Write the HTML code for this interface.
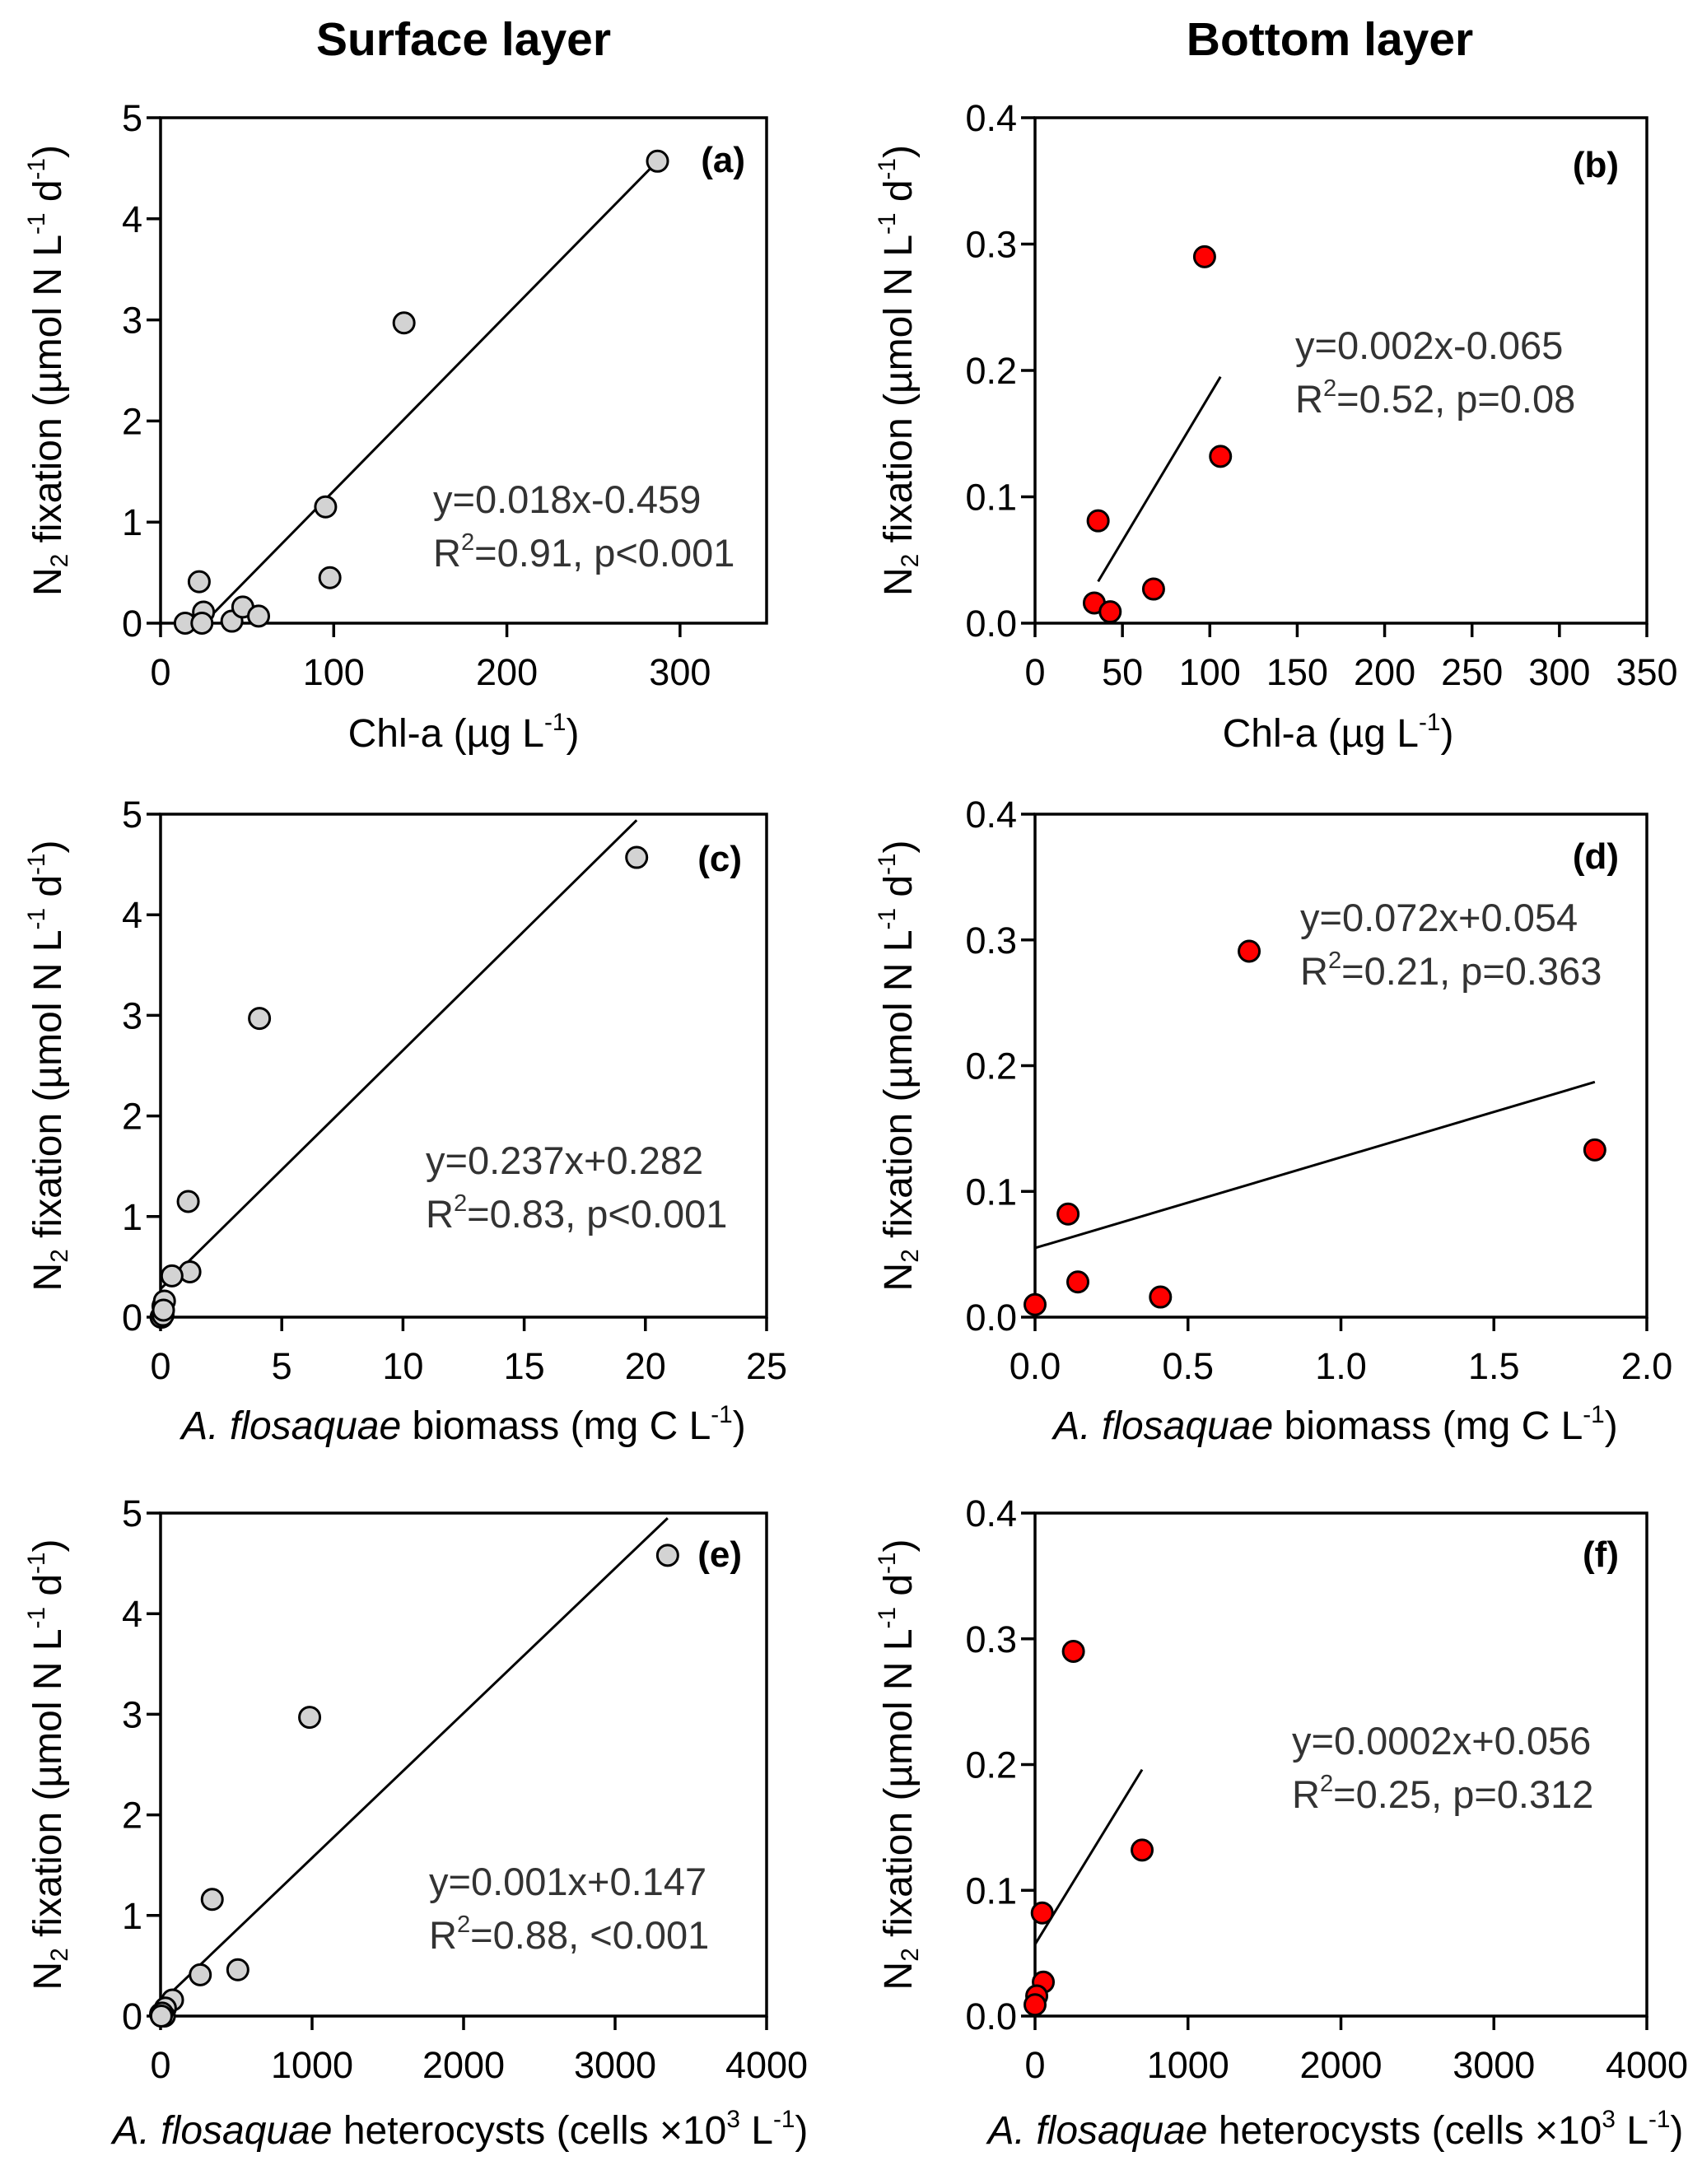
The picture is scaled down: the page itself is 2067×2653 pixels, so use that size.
<!DOCTYPE html>
<html><head><meta charset="utf-8"><style>
html,body{margin:0;padding:0;background:#fff}
svg{display:block}
text{font-family:"Liberation Sans",Arial,sans-serif}
</style></head><body>
<svg id="fig" width="2067" height="2653" viewBox="0 0 2067 2653" xmlns="http://www.w3.org/2000/svg">
<text x="563" y="67" font-size="57" font-weight="bold" text-anchor="middle">Surface layer</text>
<text x="1615" y="67" font-size="57" font-weight="bold" text-anchor="middle">Bottom layer</text>
</svg>
<script>
// Panel (a)
const aX = [287, 140.6, 95.3, 97.8, 22.3, 24.8, 14.2, 23.9, 41.2, 47.5, 56.6];
const aY = [4.57, 2.97, 1.15, 0.45, 0.41, 0.11, 0.0, 0.0, 0.02, 0.16, 0.07];
const aFitX = [26.7, 287];
const aFitY = [0.03, 4.57];
// Panel (b)
const bX = [97, 106.1, 36.1, 67.8, 33.9, 43.0];
const bY = [0.290, 0.132, 0.081, 0.027, 0.016, 0.009];
const bFitX = [36.1, 106.1];
const bFitY = [0.033, 0.195];
// Panel (c)
const cX = [19.64, 4.08, 1.14, 1.21, 0.47, 0.10, 0.05, 0.02, 0.10, 0.16, 0.12];
const cY = [4.57, 2.97, 1.15, 0.45, 0.41, 0.11, 0.0, 0.0, 0.02, 0.16, 0.07];
const cFitX = [0, 19.64];
const cFitY = [0.28, 4.94];
// Panel (d)
const dX = [0.70, 1.83, 0.108, 0.14, 0.41, 0.0];
const dY = [0.291, 0.133, 0.082, 0.028, 0.016, 0.010];
const dFitX = [0, 1.83];
const dFitY = [0.055, 0.187];
// Panel (e)
const eX = [3347, 984, 341, 510, 262, 79, 32, 0, 25, 10, 5];
const eY = [4.58, 2.97, 1.16, 0.46, 0.41, 0.16, 0.08, 0.02, 0.0, 0.03, 0.0];
const eFitX = [0, 3347];
const eFitY = [0.133, 4.95];
// Panel (f)
const fX = [251, 700, 47, 54, 11, 0];
const fY = [0.290, 0.132, 0.082, 0.027, 0.016, 0.009];
const fFitX = [0, 700];
const fFitY = [0.057, 0.196];
// Tick labels
const surfYTicks = ["0","1","2","3","4","5"];
const botYTicks = ["0.0","0.1","0.2","0.3","0.4"];
const chlSurfTicks = ["0","100","200","300"];
const chlBotTicks = ["0","50","100","150","200","250","300","350"];
const bioSurfTicks = ["0","5","10","15","20","25"];
const bioBotTicks = ["0.0","0.5","1.0","1.5","2.0"];
const hetTicks = ["0","1000","2000","3000","4000"];

const NS = "http://www.w3.org/2000/svg";
const svg = document.getElementById('fig');
function mk(tag, attrs, parent) {
  const e = document.createElementNS(NS, tag);
  for (const k in attrs) e.setAttribute(k, attrs[k]);
  (parent || svg).appendChild(e);
  return e;
}
function richText(parent, parts, attrs) {
  const t = mk('text', attrs, parent);
  const fs = parseFloat(attrs['font-size']);
  parts.forEach(p => {
    const s = document.createElementNS(NS, 'tspan');
    if (p.style === 'i') s.setAttribute('font-style', 'italic');
    if (p.style === 'sup') { s.setAttribute('font-size', (fs * 0.62) + 'px'); s.setAttribute('baseline-shift', (fs * 0.42) + 'px'); }
    if (p.style === 'sub') { s.setAttribute('font-size', (fs * 0.62) + 'px'); s.setAttribute('baseline-shift', (-fs * 0.16) + 'px'); }
    s.textContent = p.t;
    t.appendChild(s);
  });
  return t;
}

function panel(cfg) {
  const g = mk('g', {});
  
  
  const L = cfg.left, R = cfg.right, T = cfg.top, B = cfg.bottom;
  const sx = v => L + (v - cfg.xmin) / (cfg.xmax - cfg.xmin) * (R - L);
  const sy = v => B - (v - cfg.ymin) / (cfg.ymax - cfg.ymin) * (B - T);
  const frame = mk('rect', {x: L, y: T, width: R - L, height: B - T, fill: 'none', stroke: '#000', 'stroke-width': 3.5}, g);
  
  
  cfg.yTicks.forEach(lbl => {
    const v = parseFloat(lbl), y = sy(v);
    const tk = mk('line', {x1: L - 17, x2: L, y1: y, y2: y, stroke: '#000', 'stroke-width': 3.5}, g);
    
    
    const tx = mk('text', {x: L - 22, y: y + 16, 'font-size': 45, 'text-anchor': 'end'}, g);
    
    
    tx.textContent = lbl;
  });
  cfg.xTicks.forEach(lbl => {
    const v = parseFloat(lbl), x = sx(v);
    const tk = mk('line', {x1: x, x2: x, y1: B, y2: B + 17, stroke: '#000', 'stroke-width': 3.5}, g);
    
    
    const tx = mk('text', {x: x, y: B + 75, 'font-size': 45, 'text-anchor': 'middle'}, g);
    
    
    tx.textContent = lbl;
  });
  const fl = mk('line', {x1: sx(cfg.fitX[0]), y1: sy(cfg.fitY[0]), x2: sx(cfg.fitX[1]), y2: sy(cfg.fitY[1]), stroke: '#000', 'stroke-width': 3}, g);
  
  
  cfg.xs.forEach((xv, i) => {
    const c = mk('circle', {cx: sx(xv), cy: sy(cfg.ys[i]), r: 12.5, fill: cfg.fill, stroke: '#000', 'stroke-width': 3}, g);
    
    
  });
  const pl = mk('text', {x: cfg.lblX, y: cfg.lblY, 'font-size': 44, 'font-weight': 'bold', 'text-anchor': 'end'}, g);
  
  
  pl.textContent = '(' + cfg.id + ')';
  const e1 = mk('text', {x: cfg.eqX, y: cfg.eqY, 'font-size': 47, fill: '#333'}, g);
  
  
  e1.textContent = cfg.eq1;
  const e2 = richText(g, [{t: 'R'}, {t: '2', style: 'sup'}, {t: cfg.eq2}], {x: cfg.eqX, y: cfg.eqY + 65, 'font-size': 47, fill: '#333'});
  
  
  const cy = (T + B) / 2, tx0 = cfg.yTitleX;
  const yt = richText(g, [{t: 'N'}, {t: '2', style: 'sub'}, {t: ' fixation (µmol N L'}, {t: '-1', style: 'sup'}, {t: ' d'}, {t: '-1', style: 'sup'}, {t: ')'}],
    {x: tx0, y: cy, 'font-size': 48, 'text-anchor': 'middle', transform: 'rotate(-90 ' + tx0 + ' ' + cy + ')'});
  
  
  const xt = richText(g, cfg.xTitle, {x: cfg.xTitleX, y: cfg.xTitleY, 'font-size': 48, 'text-anchor': 'middle'});
  
  
}

const chlTitle = [{t: 'Chl-a (µg L'}, {t: '-1', style: 'sup'}, {t: ')'}];
const bioTitle = [{t: 'A. flosaquae', style: 'i'}, {t: ' biomass (mg C L'}, {t: '-1', style: 'sup'}, {t: ')'}];
const hetTitle = [{t: 'A. flosaquae', style: 'i'}, {t: ' heterocysts (cells ×10'}, {t: '3', style: 'sup'}, {t: ' L'}, {t: '-1', style: 'sup'}, {t: ')'}];

const LL = 195, LR = 931, RL = 1257, RR = 2000;
const rows = [[143, 757], [989, 1600], [1838, 2449]];

panel({id: 'a', left: LL, right: LR, top: rows[0][0], bottom: rows[0][1], xmin: 0, xmax: 350, ymin: 0, ymax: 5,
  xs: aX, ys: aY, fitX: aFitX, fitY: aFitY, fill: '#d3d3d3', yTicks: surfYTicks, xTicks: chlSurfTicks,
  lblX: 905, lblY: 209, eqX: 526, eqY: 623, eq1: 'y=0.018x-0.459', eq2: '=0.91, p<0.001',
  yTitleX: 74, xTitle: chlTitle, xTitleX: 563, xTitleY: 907});
panel({id: 'b', left: RL, right: RR, top: rows[0][0], bottom: rows[0][1], xmin: 0, xmax: 350, ymin: 0, ymax: 0.4,
  xs: bX, ys: bY, fitX: bFitX, fitY: bFitY, fill: '#ff0000', yTicks: botYTicks, xTicks: chlBotTicks,
  lblX: 1966, lblY: 215, eqX: 1573, eqY: 436, eq1: 'y=0.002x-0.065', eq2: '=0.52, p=0.08',
  yTitleX: 1107, xTitle: chlTitle, xTitleX: 1625, xTitleY: 907});
panel({id: 'c', left: LL, right: LR, top: rows[1][0], bottom: rows[1][1], xmin: 0, xmax: 25, ymin: 0, ymax: 5,
  xs: cX, ys: cY, fitX: cFitX, fitY: cFitY, fill: '#d3d3d3', yTicks: surfYTicks, xTicks: bioSurfTicks,
  lblX: 901, lblY: 1058, eqX: 517, eqY: 1426, eq1: 'y=0.237x+0.282', eq2: '=0.83, p<0.001',
  yTitleX: 74, xTitle: bioTitle, xTitleX: 563, xTitleY: 1748});
panel({id: 'd', left: RL, right: RR, top: rows[1][0], bottom: rows[1][1], xmin: 0, xmax: 2, ymin: 0, ymax: 0.4,
  xs: dX, ys: dY, fitX: dFitX, fitY: dFitY, fill: '#ff0000', yTicks: botYTicks, xTicks: bioBotTicks,
  lblX: 1966, lblY: 1055, eqX: 1579, eqY: 1131, eq1: 'y=0.072x+0.054', eq2: '=0.21, p=0.363',
  yTitleX: 1107, xTitle: bioTitle, xTitleX: 1622, xTitleY: 1748});
panel({id: 'e', left: LL, right: LR, top: rows[2][0], bottom: rows[2][1], xmin: 0, xmax: 4000, ymin: 0, ymax: 5,
  xs: eX, ys: eY, fitX: eFitX, fitY: eFitY, fill: '#d3d3d3', yTicks: surfYTicks, xTicks: hetTicks,
  lblX: 901, lblY: 1903, eqX: 521, eqY: 2302, eq1: 'y=0.001x+0.147', eq2: '=0.88, <0.001',
  yTitleX: 74, xTitle: hetTitle, xTitleX: 559, xTitleY: 2604});
panel({id: 'f', left: RL, right: RR, top: rows[2][0], bottom: rows[2][1], xmin: 0, xmax: 4000, ymin: 0, ymax: 0.4,
  xs: fX, ys: fY, fitX: fFitX, fitY: fFitY, fill: '#ff0000', yTicks: botYTicks, xTicks: hetTicks,
  lblX: 1966, lblY: 1903, eqX: 1569, eqY: 2131, eq1: 'y=0.0002x+0.056', eq2: '=0.25, p=0.312',
  yTitleX: 1107, xTitle: hetTitle, xTitleX: 1622, xTitleY: 2604});
</script>
</body></html>
